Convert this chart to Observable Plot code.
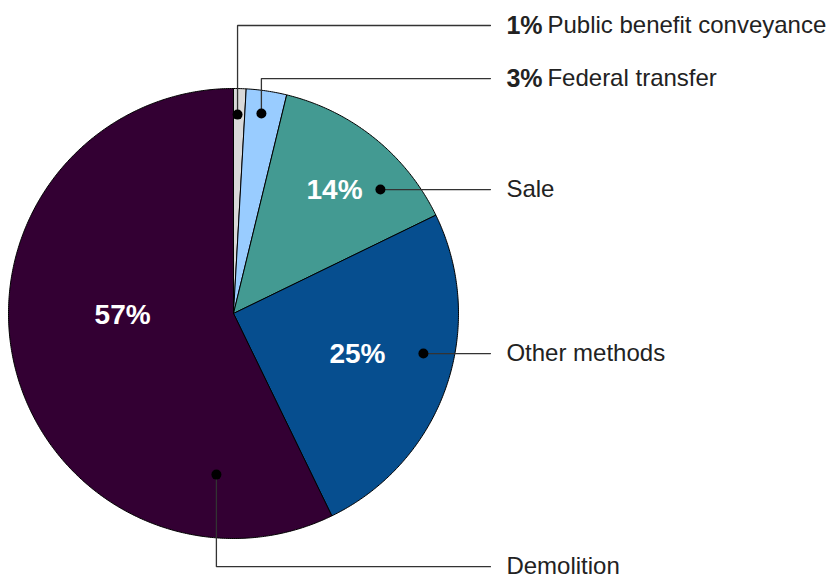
<!DOCTYPE html>
<html><head><meta charset="utf-8">
<script src="https://cdn.jsdelivr.net/npm/d3@7"></script>
<script src="https://cdn.jsdelivr.net/npm/@observablehq/plot@0.6"></script>
<style>body{margin:0;background:#fff} svg{display:block}</style>
</head><body><div id="chart"></div>
<script>
// ---- data ----
const categories = ["Public benefit conveyance", "Federal transfer", "Sale", "Other methods", "Demolition"];
const shares = [0.9, 2.9, 14.0, 25.0, 57.2];
const pctLabels = ["1%", "3%", "14%", "25%", "57%"];

// ---- layout (unit-circle coordinates, radius = 1) ----
const palette = ["#d9d9d9", "#99ccff", "#439a92", "#064e8f", "#330033"];
const dotPos = [[0.018, 0.884], [0.124, 0.889], [0.653, 0.551], [0.844, -0.178], [-0.076, -0.716]];
const rowY = [1.28, 1.044, 0.551, -0.178, -1.125];
const insidePos = [null, null, [0.449, 0.547], [0.551, -0.178], [-0.493, -0.009]];
const leaderEndX = 1.142, textX = 1.213;

// slices
const total = d3.sum(shares);
let acc = 0;
const slicePts = [];
categories.forEach((c, i) => {
  const a0 = acc / total * 2 * Math.PI; acc += shares[i]; const a1 = acc / total * 2 * Math.PI;
  slicePts.push({cat: c, x: 0, y: 0});
  const n = Math.max(2, Math.ceil((a1 - a0) / (Math.PI / 360)));
  for (let k = 0; k <= n; k++) { const a = a0 + (a1 - a0) * k / n; slicePts.push({cat: c, x: Math.sin(a), y: Math.cos(a)}); }
  slicePts.push({cat: c, x: 0, y: 0});
});

// leaders
const leaderPts = [];
categories.forEach((c, i) => {
  const [dx, dy] = dotPos[i];
  leaderPts.push({cat: c, x: dx, y: dy});
  if (Math.abs(dy - rowY[i]) > 1e-6) leaderPts.push({cat: c, x: dx, y: rowY[i]});
  leaderPts.push({cat: c, x: leaderEndX, y: rowY[i]});
});
const dots = categories.map((c, i) => ({cat: c, x: dotPos[i][0], y: dotPos[i][1]}));
const rows = categories.map((c, i) => ({cat: c, pct: pctLabels[i], y: rowY[i], outsidePct: insidePos[i] === null}));
const inside = categories.map((c, i) => insidePos[i] && ({pct: pctLabels[i], x: insidePos[i][0], y: insidePos[i][1]})).filter(Boolean);

const font = "Liberation Sans, Arial, sans-serif";
const chart = Plot.plot({
  width: 836, height: 579,
  margin: 0,
  x: {domain: [-1, 1], range: [8, 458], axis: null},
  y: {domain: [-1, 1], range: [538, 88], axis: null},
  color: {domain: categories, range: palette},
  style: {fontFamily: font, background: "#fff"},
  marks: [
    Plot.line(slicePts, {x: "x", y: "y", z: "cat", fill: "cat", stroke: "#000", strokeWidth: 1, strokeLinejoin: "miter"}),
    Plot.line(leaderPts, {x: "x", y: "y", z: "cat", stroke: "#333", strokeWidth: 1.3, strokeLinejoin: "miter"}),
    Plot.dot(dots, {x: "x", y: "y", r: 5, fill: "#000", stroke: "none"}),
    Plot.text(inside, {x: "x", y: "y", text: "pct", fill: "#fff", fontWeight: "bold", fontSize: 28}),
    Plot.text(rows.filter(d => d.outsidePct), {x: textX, y: "y", text: "pct", fill: "#222", fontWeight: "bold", fontSize: 25, textAnchor: "start"}),
    Plot.text(rows.filter(d => d.outsidePct), {x: textX, y: "y", text: "cat", fill: "#222", fontSize: 24, textAnchor: "start", dx: 41}),
    Plot.text(rows.filter(d => !d.outsidePct), {x: textX, y: "y", text: "cat", fill: "#222", fontSize: 24, textAnchor: "start"})
  ]
});
document.getElementById("chart").append(chart);
</script>
</body></html>
